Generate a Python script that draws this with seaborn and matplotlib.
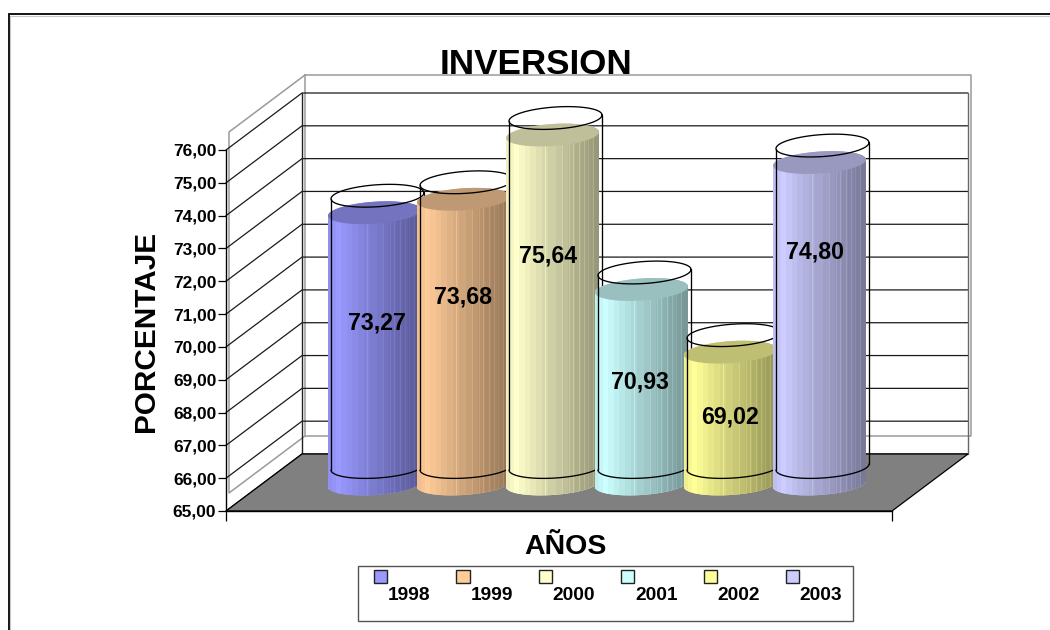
import numpy as np
import pandas as pd
import matplotlib
matplotlib.use("Agg")
import matplotlib.pyplot as plt
from matplotlib.patches import Polygon, Rectangle, Patch
from matplotlib.legend_handler import HandlerPatch
import matplotlib.colors as mcolors
import seaborn as sns

# ---- data ----
years = ["1998", "1999", "2000", "2001", "2002", "2003"]
values = [73.27, 73.68, 75.64, 70.93, 69.02, 74.80]
value_labels = ["73,27", "73,68", "75,64", "70,93", "69,02", "74,80"]
bar_colors = ["#9999FF", "#FFCC99", "#FFFFCC", "#CCFFFF", "#FFFF99", "#CCCCFF"]
y_ticks = [65, 66, 67, 68, 69, 70, 71, 72, 73, 74, 75, 76]
y_tick_labels = ["65,00", "66,00", "67,00", "68,00", "69,00", "70,00",
                 "71,00", "72,00", "73,00", "74,00", "75,00", "76,00"]
title = "INVERSION"
x_title = "AÑOS"
y_title = "PORCENTAJE"

# ---- layout (pixels of the 1050x630 picture) ----
W, H = 1050, 630
FX0, FX1, FY0, FY1 = 226, 892, 511, 150      # front plane
DX, DY = 76, -57                             # depth of the box
GX, GY = 3, -18                              # offset of the grey outer box
STEP_X, STEP_Y = 89.0, 32.8                  # px per category, px per unit
CX0, BASE_Y = 374.5, 484.0                   # first cylinder centre, y=65 level
BAR_PX = 93.0
A_PX, B_PX, S_PX = 46.5, 11.0, 3.0           # ellipse half axes and tilt
WIRE_DX, WIRE_DY = 3.0, 17.0
label_dx = [2.5, -0.5, -4.5, -1.5, -0.5, -4.5]
label_dy = [0.78, 1.37, 1.64, 0.16, 0.03, 2.16]

sns.set_theme(style="white")
plt.rcParams["font.family"] = ["Liberation Sans", "DejaVu Sans"]
plt.rcParams["font.weight"] = "bold"

fig = plt.figure(figsize=(W / 100, H / 100), dpi=100, facecolor="white")


def rect_of(x0, x1, ytop, ybot):
    return [x0 / W, 1 - ybot / H, (x1 - x0) / W, (ybot - ytop) / H]


# background: chart frame, walls and floor in picture pixels
bg = fig.add_axes([0, 0, 1, 1], zorder=0)
bg.set_xlim(0, W)
bg.set_ylim(H, 0)
bg.axis("off")
bg.plot([8.5, 8.5, W + 5], [H + 5, 14, 14], color="black", lw=1.3,
        solid_joinstyle="miter")
bg.plot([10, 10], [16, H], color="#c8c8c8", lw=0.8)
bg.plot([10, W], [15.7, 15.7], color="#c8c8c8", lw=0.8)

fl = [(FX0, FY0), (FX1, FY0), (FX1 + DX, FY0 + DY), (FX0 + DX, FY0 + DY)]
bg.add_patch(Polygon(fl, closed=True, fc="#808080", ec="black", lw=0.9, zorder=1))

gray = "#9a9a9a"
bx0, bx1 = FX0 + DX + GX, FX1 + DX + GX
by0, by1 = FY1 + DY + GY, FY0 + DY + GY
bg.plot([bx0, bx1, bx1, bx0, bx0], [by0, by0, by1, by1, by0], color=gray, lw=1.1, zorder=0.6)
gx0, gy0, gy1 = FX0 + GX, FY1 + GY, FY0 + GY
bg.plot([bx0, gx0, gx0, bx0], [by0, gy0, gy1, by1], color=gray, lw=1.1, zorder=0.6)

# gridlines: back wall and left wall
frac = np.linspace(0, 1, len(y_ticks))
for f in frac:
    yf = FY0 + (FY1 - FY0) * f
    yb = yf + DY
    bg.plot([FX0, FX0 + DX, FX1 + DX], [yf, yb, yb], color="#1a1a1a", lw=0.9, zorder=0.8)
bg.plot([FX0 + DX, FX0 + DX], [FY1 + DY, FY0 + DY], color="#222222", lw=1.0, zorder=0.8)
bg.plot([FX1 + DX, FX1 + DX], [FY1 + DY, FY0 + DY], color="#666666", lw=1.0, zorder=0.8)

# legend frame
bg.add_patch(Rectangle((358, 566), 495, 55, fc="white", ec="#555555", lw=1.0))

# front-plane axes: value axis and axis titles
front = fig.add_axes(rect_of(FX0, FX1, FY1, FY0), zorder=1)
front.patch.set_alpha(0)
front.set_xlim(0, 1)
front.set_ylim(y_ticks[0], y_ticks[-1])
front.set_yticks(y_ticks)
front.set_yticklabels(y_tick_labels, fontsize=12.4, fontweight="bold")
front.set_xticks([0, 1])
front.set_xticklabels([])
front.tick_params(axis="y", length=6, width=0.9, color="black", left=True, pad=1, labelcolor="black")
front.tick_params(axis="x", length=7, width=0.9, color="black", bottom=True)
for name, sp in front.spines.items():
    sp.set_visible(name in ("left", "bottom"))
    sp.set_color("black")
    sp.set_linewidth(1.0)
front.xaxis.get_major_ticks()[1].tick1line.set_color("#808080")
fig.text(146 / W, 1 - 331 / H, y_title, rotation=90, ha="center", va="center",
         fontsize=21.4, fontweight="bold", color="black")
fig.text(565 / W, 1 - 547 / H, x_title, ha="center", va="center",
         fontsize=20.5, fontweight="bold", color="black")
fig.text(536 / W, 1 - 64 / H, title, ha="center", va="center",
         fontsize=25.2, fontweight="bold", color="black")

# bars: one axes over the picture, scaled so each year sits at its cylinder
ax = fig.add_axes([0, 0, 1, 1], zorder=2)
ax.patch.set_alpha(0)
df = pd.DataFrame({"year": years, "value": values})
sns.barplot(data=df, x="year", y="value", hue="year", palette=bar_colors, dodge=False,
            width=BAR_PX / STEP_X, legend=False, saturation=1, ax=ax)
xlim = ((0 - CX0) / STEP_X, (W - CX0) / STEP_X)
ylim = (y_ticks[0] - (H - BASE_Y) / STEP_Y, y_ticks[0] + BASE_Y / STEP_Y)


def shade_row(rgb):
    """Colour bands across the cylinder, light left edge to dark right edge."""
    n = 93
    u = np.linspace(0, 1, n)
    k = np.interp(u, [0, 0.10, 0.45, 1.0], [0.93, 1.0, 0.83, 0.58])
    k = np.round(k * 32) / 32
    row = np.outer(k, rgb)
    for seam in [0.42, 0.60, 0.67, 0.72, 0.78, 0.83, 0.88, 0.93]:
        i = int(seam * n)
        row[i] = np.minimum(1, row[i] * 1.10)
    return row[np.newaxis, :, :]


t_low = np.linspace(np.pi, 2 * np.pi, 50)
t_up = np.linspace(0, np.pi, 50)
a = A_PX / STEP_X
b = B_PX / STEP_Y
s = S_PX / STEP_Y


def arc(cx, yc, t):
    return np.column_stack([cx + a * np.cos(t), yc + b * np.sin(t) + s * np.cos(t)])


base = y_ticks[0]
bars = list(ax.patches)
for i, (bar, v, col) in enumerate(zip(bars, values, bar_colors)):
    cx = bar.get_x() + bar.get_width() / 2
    z = 3 + i
    rgb = np.array(mcolors.to_rgb(col))
    body_xy = np.vstack([arc(cx, base, t_low), arc(cx, v, t_up)])
    body = Polygon(body_xy, closed=True, transform=ax.transData, fc="none", ec="none")
    ax.add_patch(body)
    bar.set_clip_path(body)
    bar.set_zorder(z)
    img = ax.imshow(shade_row(rgb), extent=(cx - a, cx + a, base - 1, v + 1), aspect="auto",
                    interpolation="nearest", zorder=z + 0.1)
    img.set_clip_path(body)
    ax.fill(*arc(cx, v, np.linspace(0, 2 * np.pi, 100)).T, color=tuple(rgb * 0.75), lw=0, zorder=z + 0.2)
    # wire cylinder, offset up and right
    wx, wy = WIRE_DX / STEP_X, WIRE_DY / STEP_Y
    ax.plot(*arc(cx + wx, v + wy, np.linspace(0, 2 * np.pi, 100)).T, color="black", lw=0.95, zorder=z + 0.3)
    ax.plot(*arc(cx + wx, base + wy, t_low).T, color="black", lw=0.95, zorder=z + 0.3)
    for sgn in (-1, 1):
        ax.plot([cx + wx + sgn * a] * 2, [base + wy + sgn * s, v + wy + sgn * s], color="black",
                lw=0.95, zorder=z + 0.3)
    ax.text(cx + label_dx[i] / STEP_X, (base + v) / 2 + label_dy[i], value_labels[i], ha="center",
            va="center", fontsize=16.7, fontweight="bold", color="black", zorder=20)

ax.set_xlim(*xlim)
ax.set_ylim(*ylim)
ax.axis("off")


# legend: swatch sits above and to the left of its label
def swatch(legend, orig_handle, xdescent, ydescent, width, height, fontsize):
    return Rectangle((-xdescent + 0, -ydescent + 12), width, width)


handles = [Patch(facecolor=c, edgecolor="#222222", linewidth=1.0) for c in bar_colors]
leg = ax.legend(handles, years, ncol=6, frameon=False, loc="center left",
                bbox_to_anchor=(374 / W, 1 - 595 / H), bbox_transform=fig.transFigure,
                borderaxespad=0, borderpad=0, fontsize=13.8, handlelength=0.68,
                handletextpad=0.04, columnspacing=1.36,
                handler_map={Patch: HandlerPatch(patch_func=swatch)})
for tx in leg.get_texts():
    tx.set_fontweight("bold")
    tx.set_color("black")
leg.set_zorder(30)

fig.savefig("out.png", dpi=100)
